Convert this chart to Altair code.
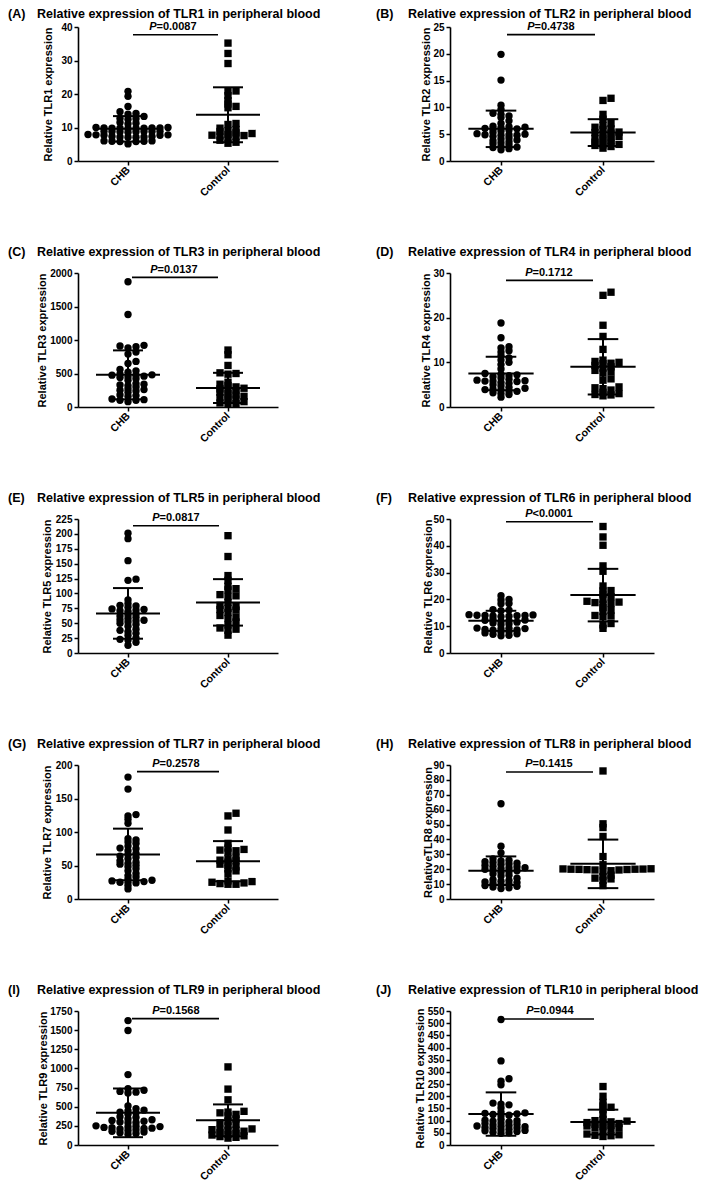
import altair as alt
import pandas as pd

# ---------------- data ----------------
letters = ["A", "B", "C", "D", "E", "F", "G", "H", "I", "J"]
genes = ["TLR1", "TLR2", "TLR3", "TLR4", "TLR5", "TLR6", "TLR7", "TLR8", "TLR9", "TLR10"]
y_titles = ["Relative TLR1 expression", "Relative TLR2 expression", "Relative TLR3 expression",
            "Relative TLR4 expression", "Relative TLR5 expression", "Relative TLR6 expression",
            "Relative TLR7 expression", "RelativeTLR8 expression", "Relative TLR9 expression",
            "Relative TLR10 expression"]
groups = ["CHB", "Control"]
y_max = [40, 25, 2000, 30, 225, 50, 200, 90, 1750, 550]
y_step = [10, 5, 500, 10, 25, 10, 50, 10, 250, 50]
p_values = ["=0.0087", "=0.4738", "=0.0137", "=0.1712", "=0.0817",
            "<0.0001", "=0.2578", "=0.1415", "=0.1568", "=0.0944"]

chb_mean = [9.6, 6.0, 480, 7.5, 66.5, 12.0, 66.5, 19.0, 420, 127]
chb_sd = [3.8, 3.4, 365, 3.75, 42.5, 3.75, 38.5, 9.6, 318, 89]
ctl_mean = [13.8, 5.3, 285, 9.0, 85, 21.6, 56.4, 23.6, 322, 94]
ctl_sd = [8.2, 2.5, 225, 6.2, 39, 9.8, 30, 16.3, 208, 51]

chb_A = [20.8, 19.3, 16.3, 14.7, 14.2, 14.0, 13.3, 12.7, 12.6, 12.5, 11.5, 11.3, 11.1,
         10.0, 10.0, 9.9, 9.9, 9.9, 9.8, 9.8, 9.8, 9.7, 9.7,
         8.9, 8.9, 8.8, 8.8, 8.8, 8.7, 8.7, 8.6,
         7.9, 7.8, 7.8, 7.7, 7.7, 7.3, 7.3, 7.2, 7.2, 7.1, 7.1,
         6.0, 6.0, 5.9, 5.9, 5.8, 5.8, 5.1]
ctl_A = [35.2, 32.1, 29.1, 20.9, 20.9, 19.5, 18.0, 17.0, 16.3, 15.9, 11.2, 10.9, 9.8, 9.4, 9.0, 8.8,
         8.4, 8.2, 7.9, 7.7, 7.6, 7.5, 7.3, 6.9, 6.2, 5.6, 5.3]
chb_B = [19.9, 15.1, 10.4, 9.6, 8.9, 8.7, 8.4, 8.1, 7.5, 7.0, 6.5, 6.4, 6.3, 6.2, 6.1, 6.0, 5.9, 5.8,
         5.6, 5.3, 5.1, 5.0, 4.9, 4.9, 4.8, 4.8, 4.6, 4.3, 4.1, 3.9, 3.8, 3.6, 3.4, 3.2, 3.0, 2.7, 2.6,
         2.5, 2.3, 2.1]
ctl_B = [11.7, 11.3, 8.7, 7.8, 7.0, 6.6, 6.3, 6.0, 5.9, 5.4, 5.3, 5.2, 5.0, 4.6, 4.5, 4.3, 4.2, 3.9,
         3.7, 3.5, 3.3, 3.1, 3.0, 2.9, 2.7, 2.4]
chb_C = [1870, 1380, 920, 910, 900, 880, 820, 790, 680, 650, 560, 540, 520, 490, 480, 475, 470, 460,
         450, 440, 420, 400, 350, 340, 330, 320, 300, 270, 260, 250, 240, 220, 180, 170, 160, 120, 110,
         100, 100, 80]
ctl_C = [850, 780, 620, 510, 500, 490, 370, 340, 320, 300, 280, 270, 260, 240, 220, 200, 180, 160, 150,
         140, 120, 100, 80, 60, 50, 40]
chb_D = [18.8, 15.5, 13.5, 13.2, 12.6, 12.3, 11.5, 11.0, 10.5, 10.0, 9.5, 8.5, 7.5, 7.3, 7.2, 7.0, 6.8,
         6.5, 6.2, 6.0, 5.9, 5.8, 5.8, 5.7, 5.5, 5.3, 5.0, 4.7, 4.4, 4.2, 4.0, 3.9, 3.8, 3.6, 3.5, 3.2,
         3.0, 2.8, 2.2]
ctl_D = [25.7, 25.0, 18.3, 15.8, 12.9, 10.5, 10.2, 10.0, 9.8, 9.7, 9.3, 9.0, 8.7, 8.2, 7.9, 7.6, 6.3,
         6.0, 4.5, 4.3, 4.1, 3.8, 3.3, 3.0, 2.8, 2.7, 2.5]
chb_E = [201, 192, 155, 124, 122, 89, 83, 80, 79, 77, 74, 73, 72, 71, 70, 66, 64, 62, 60, 58, 56, 55,
         54, 52, 50, 48, 45, 40, 38, 36, 33, 30, 25, 23, 22, 18, 13]
ctl_E = [197, 162, 130, 122, 112, 108, 106, 98, 96, 95, 85, 80, 78, 75, 73, 72, 68, 63, 60, 58, 52, 47,
         42, 40, 38, 30]
chb_F = [21.4, 20.0, 19.8, 18.5, 18.4, 16.2, 16.0, 15.8, 14.3, 14.2, 14.1, 14.0, 14.0, 13.9, 13.8, 13.7,
         13.6, 12.5, 12.3, 12.2, 12.0, 11.8, 11.5, 11.2, 10.8, 10.5, 9.3, 9.2, 9.1, 9.0, 8.8, 8.6, 8.5,
         8.0, 7.8, 7.5, 7.2, 7.0, 6.6, 6.4]
ctl_F = [47.2, 43.3, 40.2, 32.5, 30.5, 25.0, 23.3, 23.2, 22.0, 21.0, 20.0, 19.3, 19.0, 18.8, 18.5, 18.2,
         17.0, 16.0, 15.5, 14.0, 13.8, 13.5, 11.0, 10.5, 9.2]
chb_G = [182, 164, 126, 124, 119, 113, 90, 88, 85, 83, 79, 76, 75, 72, 68, 66, 64, 62, 60, 57, 55, 53,
         52, 50, 48, 45, 42, 38, 35, 33, 30, 28, 27, 26, 25, 25, 24, 20, 15]
ctl_G = [128, 124, 103, 83, 76, 74, 73, 72, 70, 62, 60, 58, 57, 55, 52, 50, 48, 45, 42, 38, 27, 26, 25,
         24, 23, 22, 22]
chb_H = [64, 35.5, 31, 27, 26, 25.5, 25, 24.5, 24, 23.5, 23.2, 22.5, 22, 21.5, 21, 20.8, 20.5, 20, 19.5,
         19, 18.5, 18, 17, 16, 15.5, 14, 13, 12.5, 12, 11.5, 11, 10.5, 10, 9.5, 9, 8.5, 8, 7.5, 7]
ctl_H = [86, 50.5, 48, 42, 28.5, 23, 20.3, 20.2, 20.1, 20, 20, 19.9, 19.8, 19.7, 19.5, 19.5, 19, 18.5,
         16, 15, 14, 13.5, 12.5, 9]
chb_I = [1625, 1495, 920, 735, 715, 700, 690, 680, 510, 475, 455, 445, 430, 420, 400, 370, 360, 340, 330,
         320, 310, 300, 295, 290, 250, 245, 240, 235, 230, 225, 220, 215, 210, 200, 190, 180, 170, 160,
         150, 140]
ctl_I = [1020, 730, 590, 440, 430, 420, 400, 380, 340, 310, 290, 270, 250, 210, 205, 200, 195, 190, 180,
         160, 150, 140, 130, 120, 110, 100, 90]
chb_J = [515, 345, 272, 262, 247, 172, 168, 165, 152, 135, 132, 130, 128, 125, 122, 120, 105, 102, 100,
         98, 95, 90, 88, 85, 82, 80, 78, 76, 75, 72, 70, 68, 65, 62, 60, 58, 55, 52, 50, 48]
ctl_J = [240, 200, 175, 160, 155, 145, 125, 105, 100, 98, 95, 92, 90, 88, 85, 80, 78, 75, 72, 70, 65, 60,
         45, 42, 40, 38, 35]

chb_values = [chb_A, chb_B, chb_C, chb_D, chb_E, chb_F, chb_G, chb_H, chb_I, chb_J]
ctl_values = [ctl_A, ctl_B, ctl_C, ctl_D, ctl_E, ctl_F, ctl_G, ctl_H, ctl_I, ctl_J]

# ---------------- layout / style ----------------
FONT = "Liberation Sans"
H = 134
W_COL = [200, 204]
LEFT_COL = [78, 450]
ytitle_x = [-30, -24, -36, -24, -31, -22, -31, -22, -35, -30]
pbar_y = [7.8, 7.6, 4.4, 7.4, 6.7, 2.7, 6.6, 7.0, 7.6, 8.0]
pbar_x = [(55, 140), (57, 145), (54, 140), (56, 143), (55, 141), (56, 143), (59, 141), (56, 143),
          (54, 141), (52, 144)]
ptxt_c = [95, 101, 96, 99, 98, 99, 98, 99, 98, 100]
label_page_x = [8, 376]
title_page_x = [37, 408]
VY = 3.2     # dots closer than this vertically (px) must sit side by side
DX = 7.6     # horizontal spacing of side-by-side dots (px)
STEP = 0.5


def swarm(vals, ppu_y, ppu_x):
    """GraphPad-like scatter offsets (x data units)."""
    order = sorted(range(len(vals)), key=lambda i: vals[i])
    cands = [0.0] + [s * j * STEP for j in range(1, 400) for s in (1, -1)]
    placed = []
    res = [0.0] * len(vals)
    for i in order:
        y = vals[i] * ppu_y
        near = [px for px, py in placed if abs(py - y) < VY]
        for c in cands:
            if all(abs(c - px) >= DX for px in near):
                break
        placed.append((c, y))
        res[i] = c / ppu_x
    return res


def panel(k):
    col = k % 2
    row = k // 2
    W = W_COL[col]
    ymax = y_max[k]
    xs = alt.Scale(domain=[0, 4], nice=False, zero=False)
    ys = alt.Scale(domain=[0, ymax], nice=False, zero=True)
    ticks = list(range(0, ymax + 1, y_step[k]))
    xax = alt.Axis(values=[1, 3], title=None, labelAngle=-45, labelAlign="right",
                   labelBaseline="middle", labelPadding=3, labelFontSize=10.5,
                   labelExpr="datum.value == 1 ? 'CHB' : 'Control'")
    yax = alt.Axis(values=ticks, format="d", title=y_titles[k], titleX=ytitle_x[k],
                   titleBaseline="middle", labelPadding=2)
    ppu_x = W / 4.0
    ppu_y = H / ymax
    oc = swarm(chb_values[k], ppu_y, ppu_x)
    ok = swarm(ctl_values[k], ppu_y, ppu_x)
    pts = pd.DataFrame({
        "grp": [groups[0]] * len(chb_values[k]) + [groups[1]] * len(ctl_values[k]),
        "val": list(chb_values[k]) + list(ctl_values[k]),
        "xpos": [1 + o for o in oc] + [3 + o for o in ok],
    })
    stats = pd.DataFrame({"grp": groups, "xc": [1, 3],
                          "mean": [chb_mean[k], ctl_mean[k]],
                          "sd": [chb_sd[k], ctl_sd[k]]})
    info = pd.DataFrame({"label": ["(" + letters[k] + ")"],
                         "title": ["Relative expression of " + genes[k] + " in peripheral blood"],
                         "p": [p_values[k]]})

    points = alt.Chart(pts).mark_point(filled=True, opacity=1, size=54, color="black",
                                       strokeWidth=0).encode(
        x=alt.X("xpos:Q", scale=xs, axis=xax),
        y=alt.Y("val:Q", scale=ys, axis=yax),
        shape=alt.Shape("grp:N", scale=alt.Scale(domain=groups, range=["circle", "square"]),
                        legend=None),
    )

    base = alt.Chart(stats).transform_calculate(
        lo="datum.mean - datum.sd", hi="datum.mean + datum.sd",
        ml="datum.xc - 0.64", mr="datum.xc + 0.64",
        cl="datum.xc - 0.3", cr="datum.xc + 0.3")
    rule_kw = dict(color="black", strokeWidth=2)
    mean_line = base.mark_rule(**rule_kw).encode(
        x=alt.X("ml:Q", scale=xs, axis=xax), x2="mr:Q",
        y=alt.Y("mean:Q", scale=ys, axis=yax))
    cap_hi = base.mark_rule(**rule_kw).encode(
        x=alt.X("cl:Q", scale=xs, axis=xax), x2="cr:Q",
        y=alt.Y("hi:Q", scale=ys, axis=yax))
    cap_lo = base.mark_rule(**rule_kw).encode(
        x=alt.X("cl:Q", scale=xs, axis=xax), x2="cr:Q",
        y=alt.Y("lo:Q", scale=ys, axis=yax))
    vert = base.mark_rule(**rule_kw).encode(
        x=alt.X("xc:Q", scale=xs, axis=xax),
        y=alt.Y("lo:Q", scale=ys, axis=yax), y2="hi:Q")

    ib = alt.Chart(info)
    x0, x1 = pbar_x[k]
    pbar = ib.mark_rule(color="black", strokeWidth=1.6).encode(
        x=alt.value(x0), x2=alt.value(x1), y=alt.value(pbar_y[k]))
    split = ptxt_c[k] - 16.5
    ty = pbar_y[k] - 7.8
    p_it = ib.mark_text(align="right", baseline="middle", font=FONT, fontSize=11,
                        fontWeight="bold", fontStyle="italic", color="black").encode(
        x=alt.value(split), y=alt.value(ty), text=alt.value("P"))
    p_rest = ib.mark_text(align="left", baseline="middle", font=FONT, fontSize=11,
                          fontWeight="bold", color="black").encode(
        x=alt.value(split), y=alt.value(ty), text="p:N")

    left = LEFT_COL[col]
    head_y = -12.75 if row == 0 else -21.5
    lab = ib.mark_text(align="left", baseline="middle", font=FONT, fontSize=12.5,
                       fontWeight="bold", color="black").encode(
        x=alt.value(label_page_x[col] - left), y=alt.value(head_y), text="label:N")
    ttl = ib.mark_text(align="left", baseline="middle", font=FONT, fontSize=12.5,
                       fontWeight="bold", color="black").encode(
        x=alt.value(title_page_x[col] - left), y=alt.value(head_y), text="title:N")

    return alt.layer(points, mean_line, cap_hi, cap_lo, vert, pbar, p_it, p_rest, lab,
                     ttl).properties(width=W, height=H)


panels = [panel(k) for k in range(10)]
chart = alt.concat(
    *panels, columns=2, bounds="flush",
    spacing=alt.RowColnumber(row=112, column=LEFT_COL[1] - LEFT_COL[0] - W_COL[0]),
).properties(padding=0).configure_view(stroke=None).configure_axis(
    domainColor="black", domainWidth=1.6, tickColor="black", tickWidth=1.5, tickSize=4,
    labelFont=FONT, labelFontWeight="bold", labelFontSize=10, labelColor="black",
    labelOverlap=False, labelFlush=False, grid=False,
    titleFont=FONT, titleFontWeight="bold", titleFontSize=11, titleColor="black",
)

chart.save("out.html", embed_options={"renderer": "svg", "actions": False})
